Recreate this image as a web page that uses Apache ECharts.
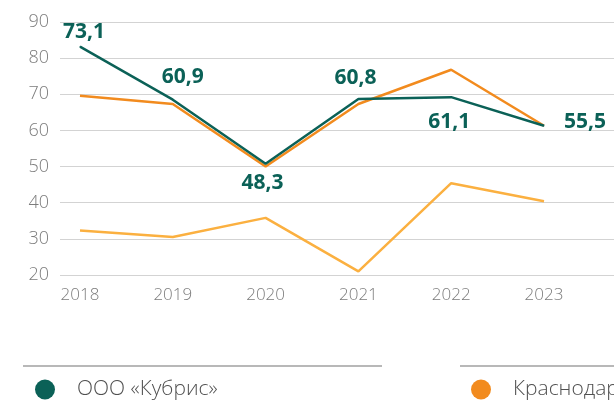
<!DOCTYPE html>
<html>
<head>
<meta charset="utf-8">
<title>Кубрис</title>
<script type="text/javascript" src="https://cdn.jsdelivr.net/npm/echarts@6/dist/echarts.min.js"></script>
<style>
html, body { margin: 0; padding: 0; background: #fff; }
#chart { width: 614px; height: 403px; }
</style>
</head>
<body>
<div id="chart"></div>
<script type="text/javascript">
    var years = ['2018', '2019', '2020', '2021', '2022', '2023'];
    var kubris = [83.2, 68.5, 50.8, 68.7, 69.2, 61.3];       // ООО «Кубрис»
    var krasnodar = [69.6, 67.3, 50.0, 67.3, 76.8, 61.3];    // Краснодарский край
    var russia = [32.3, 30.5, 35.8, 21.0, 45.4, 40.4];       // третья линия (легенда обрезана)
    var kubrisLabels = ['73,1', '60,9', '48,3', '60,8', '61,1', '55,5'];
    var labelOffsets = [[4, -15], [10, -23], [-3, 19], [-3, -21], [-2, 25], [41, -4]];

    var green = '#0b6157', orange = '#f28b1e', lightOrange = '#fbb040';

    var legendText = {color: '#505050', fontSize: 21, fontWeight: 300, fontFamily: 'Open Sans', padding: [0, 0, 0, 17]};

    var option = {
        backgroundColor: '#fff',
        animation: false,
        grid: [
            {left: 80, right: 70, top: 22, height: 253},  // линии данных
            {left: 60, right: 0, top: 22, height: 253}    // сетка и подписи оси Y
        ],
        xAxis: [
            {
                type: 'category', gridIndex: 0, data: years, boundaryGap: false,
                axisLine: {show: false}, axisTick: {show: false},
                axisLabel: {color: '#7c7c7c', fontSize: 17, fontWeight: 300, fontFamily: 'Open Sans', margin: 12}
            },
            {type: 'category', gridIndex: 1, data: years, show: false}
        ],
        yAxis: [
            {type: 'value', gridIndex: 0, min: 20, max: 90, interval: 10, show: false},
            {
                type: 'value', gridIndex: 1, min: 20, max: 90, interval: 10,
                axisLine: {show: false}, axisTick: {show: false},
                axisLabel: {color: '#7c7c7c', fontSize: 18, fontWeight: 300, fontFamily: 'Open Sans', margin: 11},
                splitLine: {lineStyle: {color: '#d3d3d3', width: 1}}
            }
        ],
        legend: [
            {
                left: 30, top: 374, icon: 'circle', itemWidth: 20, itemHeight: 20,
                data: ['ООО «Кубрис»'], textStyle: legendText
            },
            {
                left: 466, top: 374, icon: 'circle', itemWidth: 20, itemHeight: 20,
                data: ['Краснодарский край'], textStyle: legendText
            }
        ],
        graphic: [
            {type: 'line', shape: {x1: 23, y1: 366, x2: 382, y2: 366}, style: {stroke: '#a0a0a0', lineWidth: 1.5}},
            {type: 'line', shape: {x1: 460, y1: 366, x2: 614, y2: 366}, style: {stroke: '#a0a0a0', lineWidth: 1.5}}
        ],
        series: [
            {
                name: 'Россия', type: 'line', xAxisIndex: 0, yAxisIndex: 0,
                data: russia, symbol: 'none',
                lineStyle: {color: lightOrange, width: 2.5}, itemStyle: {color: lightOrange}
            },
            {
                name: 'Краснодарский край', type: 'line', xAxisIndex: 0, yAxisIndex: 0,
                data: krasnodar, symbol: 'none',
                lineStyle: {color: orange, width: 2.5}, itemStyle: {color: orange}
            },
            {
                name: 'ООО «Кубрис»', type: 'line', xAxisIndex: 0, yAxisIndex: 0,
                data: kubris.map(function (v, i) {
                    return {
                        value: v,
                        label: {offset: labelOffsets[i]}
                    };
                }),
                symbol: 'circle', symbolSize: 1,
                lineStyle: {color: green, width: 2.5}, itemStyle: {color: green},
                label: {
                    show: true, position: 'inside',
                    color: green, fontSize: 21, fontWeight: 'bold', fontFamily: 'Open Sans',
                    formatter: function (p) { return kubrisLabels[p.dataIndex]; }
                }
            }
        ]
    };

    var chart = echarts.init(document.getElementById('chart'));
    chart.setOption(option);
</script>
</body>
</html>
